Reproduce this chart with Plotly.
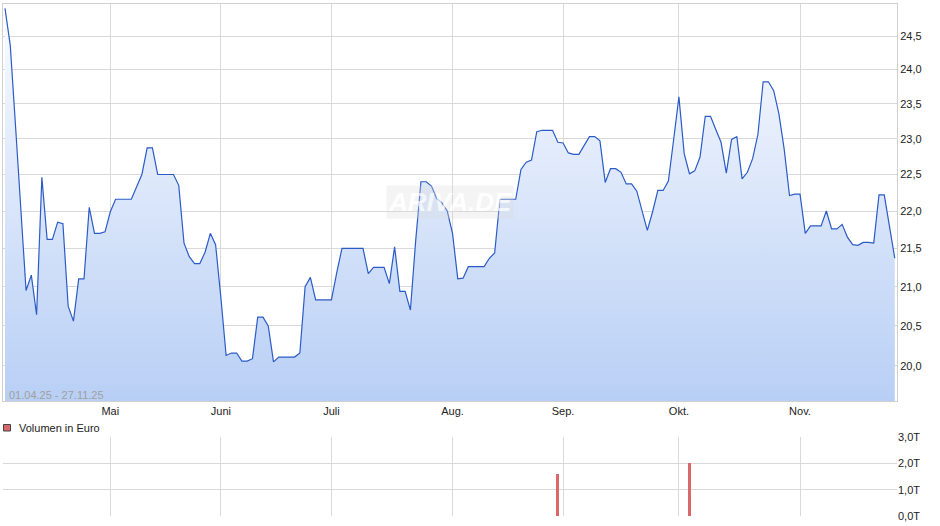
import math
import pandas as pd
import plotly.graph_objects as go

# ---------------- data ----------------
holidays = ["2025-04-18", "2025-04-21", "2025-05-01"]
trading_days = [d.strftime("%Y-%m-%d") for d in pd.bdate_range("2025-04-01", "2025-11-27")
                if d.strftime("%Y-%m-%d") not in holidays]

price = [
    24.92, 24.36, 23.18, 22.03, 20.95, 21.15, 20.64, 22.46, 21.62, 21.62,
    21.85, 21.83, 20.75, 20.56, 21.10, 21.10, 22.05, 21.70, 21.70, 21.72,
    21.99, 22.16, 22.16, 22.16, 22.16, 22.33, 22.50, 22.87, 22.87, 22.50,
    22.50, 22.50, 22.50, 22.35, 21.57, 21.39, 21.30, 21.30, 21.45, 21.70,
    21.55, 20.86, 20.13, 20.16, 20.16, 20.06, 20.06, 20.09, 20.61, 20.61,
    20.50, 20.05, 20.11, 20.11, 20.11, 20.11, 20.16, 21.00, 21.12, 20.83,
    20.83, 20.83, 20.83, 21.18, 21.50, 21.50, 21.50, 21.50, 21.50, 21.17,
    21.25, 21.25, 21.25, 21.04, 21.52, 20.94, 20.94, 20.70, 21.60, 22.40,
    22.40, 22.34, 22.17, 22.11, 22.00, 21.70, 21.10, 21.11, 21.26, 21.26,
    21.26, 21.26, 21.37, 21.44, 22.16, 22.16, 22.16, 22.16, 22.57, 22.67,
    22.70, 23.10, 23.12, 23.12, 23.12, 22.95, 22.94, 22.80, 22.78, 22.78,
    22.91, 23.03, 23.03, 22.97, 22.39, 22.58, 22.58, 22.53, 22.37, 22.37,
    22.27, 22.00, 21.74, 21.99, 22.28, 22.28, 22.41, 22.99, 23.60, 22.79,
    22.51, 22.55, 22.74, 23.32, 23.32, 23.13, 22.95, 22.52, 22.99, 23.03,
    22.44, 22.53, 22.72, 23.06, 23.82, 23.82, 23.69, 23.35, 22.85, 22.21,
    22.23, 22.23, 21.70, 21.80, 21.80, 21.80, 22.00, 21.76, 21.76, 21.82,
    21.65, 21.55, 21.54, 21.58, 21.58, 21.57, 22.22, 22.22, 21.79, 21.37,
]

vol_dates = ["2025-08-29", "2025-10-03"]
vol_tsd = [1.6, 2.02]          # volume in thousand euro

month_days = ["2025-05-02", "2025-06-02", "2025-07-01", "2025-08-01",
              "2025-09-01", "2025-10-01", "2025-11-03"]
month_labels = ["Mai", "Juni", "Juli", "Aug.", "Sep.", "Okt.", "Nov."]

price_ticks = [20.0, 20.5, 21.0, 21.5, 22.0, 22.5, 23.0, 23.5, 24.0, 24.5]
price_ticktext = ["20,0", "20,5", "21,0", "21,5", "22,0", "22,5", "23,0", "23,5", "24,0", "24,5"]
vol_ticks = [0, 1, 2, 3]
vol_ticktext = ["0,0T", "1,0T", "2,0T", "3,0T"]

date_range_label = "01.04.25 - 27.11.25"
volume_label = "Volumen in Euro"
watermark = "ARIVA.DE"

# ---------------- layout constants ----------------
W, H = 940, 526
Y_BOTTOM, Y_TOP = 19.574, 24.995
X_RANGE = [-0.38, 169.42]
FONT = "Liberation Sans, Arial, sans-serif"
GRID = "#d9d9d9"


def px(x):
    return x / W


def py(y):
    return 1 - y / H


fig = go.Figure()

fig.add_trace(go.Scatter(
    x=trading_days, y=price, mode="lines",
    line=dict(color="#2b5bc6", width=1.2),
    fill="tozeroy",
    fillgradient=dict(type="vertical",
                      colorscale=[[0, "#b8cff5"], [1, "#fbfcff"]],
                      start=Y_BOTTOM, stop=Y_TOP),
    xaxis="x", yaxis="y", hoverinfo="skip", showlegend=False,
))

fig.add_trace(go.Bar(
    x=vol_dates, y=vol_tsd, marker=dict(color="#d9686b", line=dict(width=0)),
    width=0.55, xaxis="x2", yaxis="y2", hoverinfo="skip", showlegend=False,
))

x_common = dict(
    type="category", categoryorder="array", categoryarray=trading_days,
    range=X_RANGE, domain=[px(3), px(897)],
    tickmode="array", tickvals=month_days, ticktext=month_labels,
    showgrid=True, gridcolor=GRID, gridwidth=1, zeroline=False, ticks="",
    fixedrange=True, automargin=False,
)

fig.update_layout(
    width=W, height=H,
    margin=dict(l=0, r=0, t=0, b=0, pad=0),
    paper_bgcolor="white", plot_bgcolor="white",
    font=dict(family=FONT, size=11, color="#333333"),
    showlegend=False,
    bargap=0,
    hovermode=False,
    xaxis=dict(**x_common, anchor="y", showline=True, linecolor="#d0d0d0",
               linewidth=1, mirror=True,
               tickfont=dict(size=11, color="#222222")),
    yaxis=dict(type="log", range=[math.log10(Y_BOTTOM), math.log10(Y_TOP)],
               domain=[py(401), py(3.5)],
               side="right", tickmode="array", tickvals=price_ticks,
               ticktext=price_ticktext, showgrid=True, gridcolor=GRID,
               showline=True, linecolor="#d0d0d0", linewidth=1, mirror=True,
               zeroline=False, ticks="", anchor="x", automargin=False,
               fixedrange=True, tickfont=dict(size=11, color="#222222")),
    xaxis2=dict(**x_common, anchor="y2", showticklabels=False, showline=False),
    yaxis2=dict(range=[0, 3], domain=[py(516.3), py(437.3)], side="right",
                tickmode="array", tickvals=vol_ticks, ticktext=vol_ticktext,
                showgrid=True, gridcolor=GRID, zeroline=False, showline=False,
                ticks="", anchor="x2", automargin=False, fixedrange=True,
                tickfont=dict(size=11, color="#222222")),
    annotations=[
        dict(text=date_range_label, xref="paper", yref="paper",
             x=px(7), y=py(395), xanchor="left", yanchor="middle",
             showarrow=False, font=dict(size=11, color="#a0a0a0")),
        dict(text=volume_label, xref="paper", yref="paper",
             x=px(17), y=py(428), xanchor="left", yanchor="middle",
             showarrow=False, font=dict(size=11, color="#222222")),
        dict(text="<i><b>" + watermark + "</b></i>", xref="paper", yref="paper",
             x=px(450), y=py(202), xanchor="center", yanchor="middle",
             showarrow=False, bgcolor="rgba(220,220,220,0.4)", borderpad=1,
             font=dict(size=26, color="rgba(255,255,255,0.95)"), opacity=0.75),
    ],
    shapes=[
        dict(type="rect", xref="paper", yref="paper",
             x0=px(3.5), x1=px(10.5), y0=py(431), y1=py(424.5),
             fillcolor="#d9686b", line=dict(color="#444444", width=1)),
    ],
)

fig.write_html("out.html", config={"displayModeBar": False, "staticPlot": True},
               post_script="document.body.style.margin='0px';")
